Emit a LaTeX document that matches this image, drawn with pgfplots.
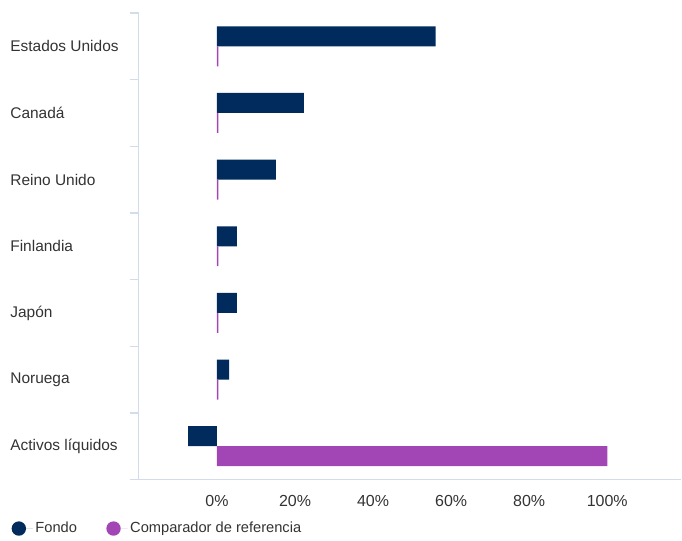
\documentclass[border=0pt]{standalone}
\usepackage{fontspec}
\setmainfont{Liberation Sans}
\usepackage{pgfplots}
\pgfplotsset{compat=1.18}
\definecolor{navy}{HTML}{002B5C}
\definecolor{purp}{HTML}{A346B5}
\definecolor{axl}{HTML}{D3DCEA}
\definecolor{txt}{HTML}{333333}
\begin{document}
\begin{tikzpicture}
\begin{axis}[
  scale only axis,
  width=407.25pt, height=350.25pt,
  xmin=-20, xmax=119,
  ymin=-0.5, ymax=6.5,
  xbar, bar width=15pt,
  axis x line=bottom, axis y line=left,
  axis line style={-, draw=axl, line width=0.9pt},
  xtick={0,20,40,60,80,100},
  xticklabel={\pgfmathprintnumber{\tick}\%},
  /pgf/number format/assume math mode=true,
  ytick={0,1,2,3,4,5,6},
  yticklabels={Activos líquidos,Noruega,Japón,Finlandia,Reino Unido,Canadá,Estados Unidos},
  yticklabel style={anchor=west, xshift=-100pt, font=\fontsize{11.6pt}{13pt}\selectfont},
  xticklabel style={yshift=-8.5pt, font=\fontsize{12pt}{14pt}\selectfont},
  tick label style={text=txt},
  major tick length=0pt,
  minor ytick={-0.5,0.5,...,6.5},
  minor tick length=7pt,
  tick align=outside,
  minor tick style={draw=axl, line width=0.9pt},
  clip=false,
  legend style={draw=none, fill=none, at={(rel axis cs:-0.2424,-0.105)}, anchor=west,
    legend columns=2, font=\fontsize{11pt}{13pt}\selectfont, text=txt,
    /tikz/every even column/.append style={column sep=20pt}},
  legend image code/.code={\fill (0pt,0pt) circle (5.4pt); \path (-5.4pt,0pt) -- (10.5pt,0pt);},
]
\addplot[fill=navy, draw=none, bar shift=7.5pt] coordinates {
  (-7.4,0) (3.1,1) (5.1,2) (5.1,3) (15.1,4) (22.3,5) (56.0,6)};
\addlegendentry{Fondo}
\addplot[fill=purp, draw=none, bar shift=-7.5pt] coordinates {
  (100,0) (0.35,1) (0.35,2) (0.35,3) (0.35,4) (0.35,5) (0.35,6)};
\addlegendentry{Comparador de referencia}
\path (rel axis cs:-0.256,-0.1199) rectangle (rel axis cs:1.0,1.0278);
\end{axis}
\end{tikzpicture}
\end{document}
